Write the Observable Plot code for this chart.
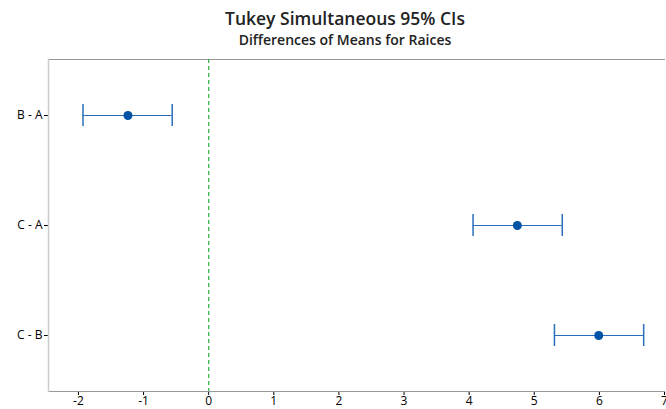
<!DOCTYPE html>
<html>
<head>
<meta charset="utf-8">
<script src="https://cdn.jsdelivr.net/npm/d3@7"></script>
<script src="https://cdn.jsdelivr.net/npm/@observablehq/plot@0.6"></script>
<style>
  html, body { margin: 0; padding: 0; background: #fff; }
  #wrap { position: relative; width: 666px; height: 409px; font-family: "Open Sans", "Noto Sans", sans-serif; }
  #title { position: absolute; left: 0; width: 690px; top: 6px; text-align: center; font-size: 17.5px; font-weight: 600; color: #222; }
  #subtitle { position: absolute; left: 0; width: 690px; top: 30px; text-align: center; font-size: 14px; font-weight: 600; color: #222; }
  #chart { position: absolute; left: 0; top: 50px; }
  #chart svg text { font-size: 12px; }
</style>
</head>
<body>
<div id="wrap">
  <div id="title">Tukey Simultaneous 95% CIs</div>
  <div id="subtitle">Differences of Means for Raices</div>
  <div id="chart"></div>
</div>
<script>
const comparisons = ["B - A", "C - A", "C - B"];
const centers = [-1.24, 4.74, 5.99];
const lowers = [-1.93, 4.06, 5.31];
const uppers = [-0.56, 5.43, 6.68];
const xTicks = [-2, -1, 0, 1, 2, 3, 4, 5, 6, 7];
const xDomain = [-2.46, 7.0];

const data = comparisons.map((c, i) => ({c, mid: centers[i], lo: lowers[i], hi: uppers[i]}));

const chart = Plot.plot({
  width: 666,
  height: 359,
  marginLeft: 48,
  marginRight: 2,
  marginTop: 9,
  marginBottom: 18,
  style: {fontFamily: "'Open Sans', 'Noto Sans', sans-serif", fontSize: "12px", color: "#000"},
  x: {domain: xDomain, ticks: xTicks, tickFormat: d => String(d), tickSize: 4, tickPadding: 1, label: null},
  y: {domain: comparisons, padding: 0, tickSize: 4, tickPadding: 2, label: null},
  marks: [
    Plot.frame({anchor: "top", stroke: "#999"}),
    Plot.frame({anchor: "bottom", stroke: "#999"}),
    Plot.frame({anchor: "left", stroke: "#ccc", strokeWidth: 1.5}),
    Plot.ruleX([0], {stroke: "#3db54a", strokeDasharray: "4,3", strokeWidth: 1.3}),
    Plot.ruleY(data, {y: "c", x1: "lo", x2: "hi", stroke: "#2a6ebb", strokeWidth: 1.2}),
    Plot.tickX(data, {x: "lo", y: "c", stroke: "#2a6ebb", strokeWidth: 1.5, insetTop: 44, insetBottom: 44}),
    Plot.tickX(data, {x: "hi", y: "c", stroke: "#2a6ebb", strokeWidth: 1.5, insetTop: 44, insetBottom: 44}),
    Plot.dot(data, {x: "mid", y: "c", r: 4.5, fill: "#0054a6", stroke: "none"})
  ]
});
document.getElementById("chart").appendChild(chart);
</script>
</body>
</html>
